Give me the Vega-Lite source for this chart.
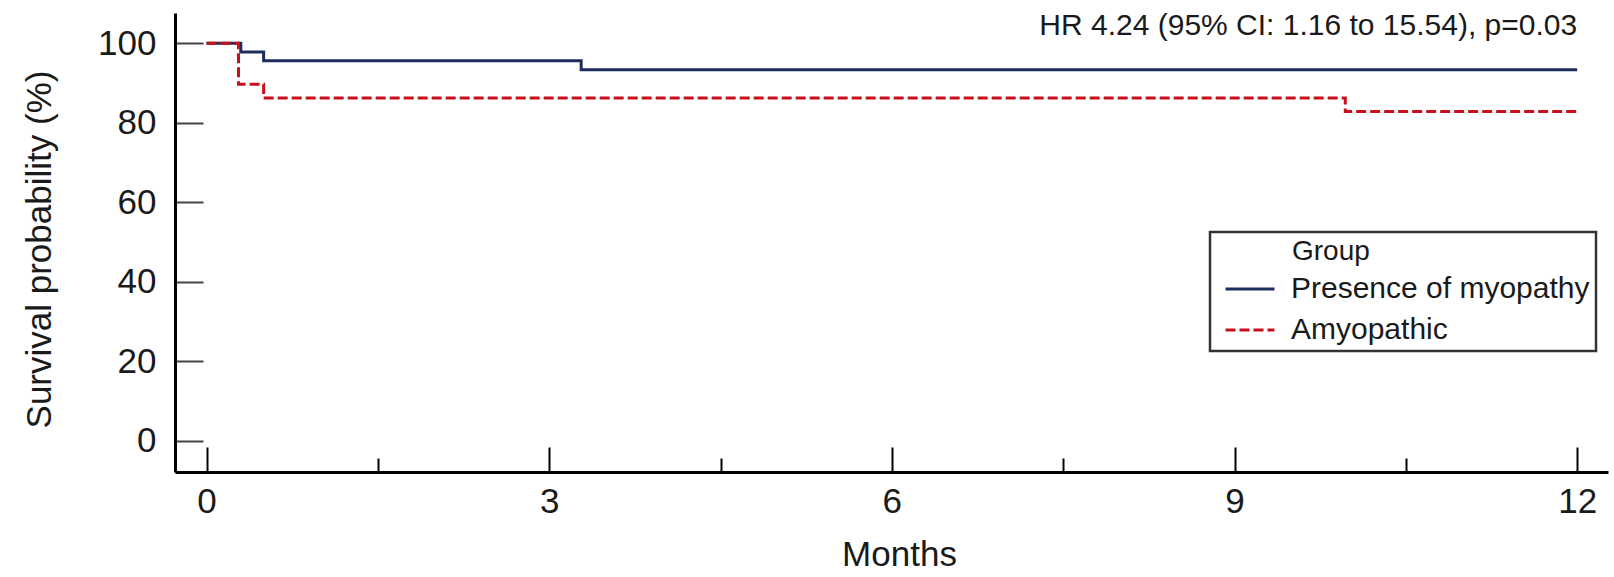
{
  "$schema": "https://vega.github.io/schema/vega-lite/v6.json",
  "width": 1433,
  "height": 459,
  "autosize": {"type": "none"},
  "padding": {"left": 175, "top": 13, "right": 6, "bottom": 105},
  "background": "white",
  "config": {
    "view": {"stroke": null},
    "font": "Liberation Sans",
    "axis": {"grid": false}
  },
  "layer": [
    {
      "data": {
        "values": [
          {"group": "Presence of myopathy", "month": 0, "survival": 100},
          {"group": "Presence of myopathy", "month": 0.3, "survival": 97.8},
          {"group": "Presence of myopathy", "month": 0.5, "survival": 95.6},
          {"group": "Presence of myopathy", "month": 3.28, "survival": 93.3},
          {"group": "Presence of myopathy", "month": 12, "survival": 93.3},
          {"group": "Amyopathic", "month": 0, "survival": 100},
          {"group": "Amyopathic", "month": 0.28, "survival": 89.7},
          {"group": "Amyopathic", "month": 0.5, "survival": 86.2},
          {"group": "Amyopathic", "month": 9.97, "survival": 82.8},
          {"group": "Amyopathic", "month": 12, "survival": 82.8}
        ]
      },
      "mark": {"type": "line", "interpolate": "step-after", "strokeWidth": 3},
      "encoding": {
        "x": {
          "field": "month",
          "type": "quantitative",
          "scale": {"domain": [-0.276, 12.27], "nice": false, "zero": false},
          "axis": {
            "title": "Months",
            "values": [0, 1.5, 3, 4.5, 6, 7.5, 9, 10.5, 12],
            "format": "d",
            "labelExpr": "datum.value % 3 === 0 ? datum.label : ''",
            "tickSize": {"condition": {"test": "datum.value % 3 === 0", "value": -25}, "value": -14},
            "tickColor": "#000000",
            "tickWidth": 2,
            "domainColor": "#000000",
            "domainWidth": 3,
            "labelFontSize": 35,
            "labelColor": "#1a1a1a",
            "labelPadding": 37,
            "labelFlush": false,
            "labelOverlap": false,
            "titleFontSize": 35,
            "titleFontWeight": "normal",
            "titleColor": "#1a1a1a",
            "titleX": 724,
            "titleY": 93,
            "titleBaseline": "alphabetic"
          }
        },
        "y": {
          "field": "survival",
          "type": "quantitative",
          "scale": {"domain": [-7.9, 107.6], "nice": false, "zero": false},
          "axis": {
            "title": "Survival probability (%)",
            "values": [0, 20, 40, 60, 80, 100],
            "tickSize": -28,
            "tickColor": "#444444",
            "tickWidth": 2,
            "domainColor": "#000000",
            "domainWidth": 3,
            "labelFontSize": 35,
            "labelColor": "#1a1a1a",
            "labelPadding": 47,
            "titleFontSize": 35,
            "titleFontWeight": "normal",
            "titleColor": "#1a1a1a",
            "titleX": -125,
            "titleY": 236,
            "titleAngle": 270,
            "titleAlign": "center",
            "titleBaseline": "alphabetic"
          }
        },
        "color": {
          "field": "group",
          "type": "nominal",
          "scale": {"domain": ["Presence of myopathy", "Amyopathic"], "range": ["#1f2d5c", "#c8101a"]},
          "legend": {
            "title": "Group",
            "orient": "none",
            "legendX": 1035,
            "legendY": 219,
            "symbolType": "stroke",
            "symbolSize": 2401,
            "symbolStrokeWidth": 3,
            "symbolOffset": 8,
            "labelOffset": 15,
            "padding": 6,
            "strokeColor": "#333333",
            "labelFontSize": 30,
            "labelColor": "#1a1a1a",
            "labelLimit": 600,
            "titleFontSize": 28,
            "titleFontWeight": "normal",
            "titleColor": "#1a1a1a",
            "titlePadding": -3,
            "rowPadding": -8,
            "encode": {
              "title": {"update": {"dx": {"value": 76}}},
              "legend": {"update": {"strokeWidth": {"value": 2.5}}}
            }
          }
        },
        "strokeDash": {
          "field": "group",
          "type": "nominal",
          "scale": {"domain": ["Presence of myopathy", "Amyopathic"], "range": [[1, 0], [10, 4]]},
          "legend": {
            "title": "Group",
            "orient": "none",
            "legendX": 1035,
            "legendY": 219,
            "symbolType": "stroke",
            "symbolSize": 2401,
            "symbolStrokeWidth": 3,
            "symbolOffset": 8,
            "labelOffset": 15,
            "padding": 6,
            "strokeColor": "#333333",
            "labelFontSize": 30,
            "labelColor": "#1a1a1a",
            "labelLimit": 600,
            "titleFontSize": 28,
            "titleFontWeight": "normal",
            "titleColor": "#1a1a1a",
            "titlePadding": -3,
            "rowPadding": -8,
            "encode": {
              "title": {"update": {"dx": {"value": 76}}},
              "legend": {"update": {"strokeWidth": {"value": 2.5}}}
            }
          }
        }
      }
    },
    {
      "data": {
        "values": [
          {"month": 12, "survival": 102.1, "label": "HR 4.24 (95% CI: 1.16 to 15.54), p=0.03"}
        ]
      },
      "mark": {"type": "text", "align": "right", "baseline": "alphabetic", "fontSize": 30, "color": "#1a1a1a"},
      "encoding": {
        "x": {"field": "month", "type": "quantitative"},
        "y": {"field": "survival", "type": "quantitative"},
        "text": {"field": "label"}
      }
    }
  ]
}
